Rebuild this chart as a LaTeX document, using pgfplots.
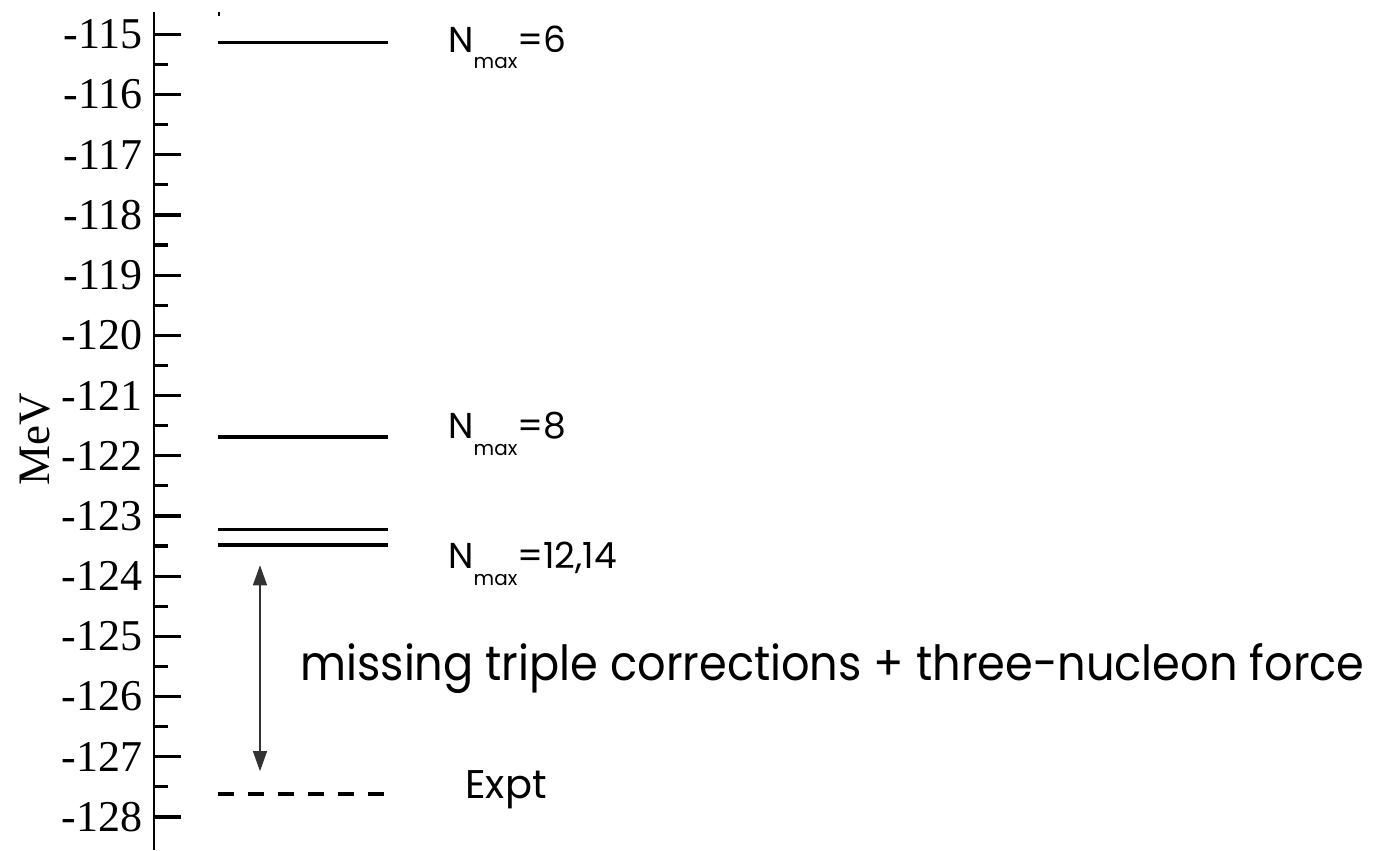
\documentclass[border=0pt]{standalone}
\usepackage{pgfplots}
\pgfplotsset{compat=1.18}
\usepackage{fontspec}
\setmainfont{Liberation Serif}
\newfontfamily\lab{Poppins}
\usetikzlibrary{arrows.meta}

\begin{document}
\begin{tikzpicture}
\begin{axis}[
  scale only axis,
  width=611pt, height=419pt,
  xmin=154, xmax=1376,
  ymin=-128.55, ymax=-114.63,
  axis x line=none,
  axis y line*=left,
  y axis line style={line width=1.4pt, -},
  ytick={-128,-127,...,-115},
  yticklabels={-128,-127,-126,-125,-124,-123,-122,-121,-120,-119,-118,-117,-116,-115},
  minor y tick num=1,
  tick align=inside,
  major tick length=13.5pt,
  minor tick length=7pt,
  tick style={line width=1.6pt, black},
  yticklabel style={font=\fontsize{22}{22}\selectfont, inner sep=0pt, xshift=-5.5pt},
  clip=false,
]
% energy levels
\addplot[line width=1.7pt] coordinates {(218,-115.14) (388,-115.14)};
\addplot[line width=1.7pt] coordinates {(218,-121.69) (388,-121.69)};
\addplot[line width=1.7pt] coordinates {(218,-123.23) (388,-123.23)};
\addplot[line width=1.7pt] coordinates {(218,-123.48) (388,-123.48)};
\addplot[line width=1.7pt, dash pattern=on 8pt off 7pt] coordinates {(218,-127.62) (388,-127.62)};
% small stray stroke at top
\addplot[line width=0.8pt] coordinates {(219,-114.63) (219,-114.69)};
% gap arrow
\addplot[line width=0.6pt, black!80,
  {Triangle[length=10pt,width=7pt]}-{Triangle[length=10pt,width=7pt]}]
  coordinates {(260,-123.82) (260,-127.24)};

\node[anchor=base west, inner sep=0pt, font=\lab\fontsize{18}{18}\selectfont]
  at (axis cs:448,-115.294) {N\raisebox{-8.5pt}{\fontsize{10}{10}\selectfont max}=6};
\node[anchor=base west, inner sep=0pt, font=\lab\fontsize{18}{18}\selectfont]
  at (axis cs:448,-121.706) {N\raisebox{-8.5pt}{\fontsize{10}{10}\selectfont max}=8};
\node[anchor=base west, inner sep=0pt, font=\lab\fontsize{18}{18}\selectfont]
  at (axis cs:448,-123.866) {N\raisebox{-8.5pt}{\fontsize{10}{10}\selectfont max}=12,14};
\node[anchor=base west, inner sep=0pt, font=\lab\fontsize{20}{20}\selectfont]
  at (axis cs:465,-127.687) {Expt};
\node[anchor=base west, inner sep=0pt, font=\lab\fontsize{25}{25}\selectfont]
  at (axis cs:300,-125.726) {\resizebox{532pt}{18.5pt}{missing triple corrections + three-nucleon force}};
\node[rotate=90, inner sep=0pt, font=\fontsize{22.5}{22.5}\selectfont]
  at (axis cs:35,-121.723) {MeV};

\coordinate (BL) at (axis cs:0,-128.55);
\coordinate (TR) at (axis cs:1376,-114.43);
\end{axis}
\pgfresetboundingbox
\useasboundingbox (BL) rectangle (TR);
\end{tikzpicture}
\end{document}
